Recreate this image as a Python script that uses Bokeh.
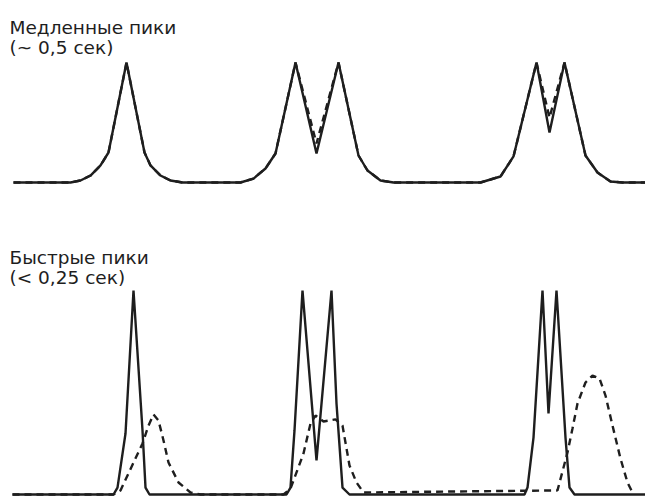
from bokeh.plotting import figure
from bokeh.layouts import column
from bokeh.models import Range1d, Label
from bokeh.embed import file_html
from bokeh.resources import INLINE

# ---- data (time in s, arbitrary signal units) ----
slow_t = [0.05, 0.62, 0.72, 0.82, 0.92, 1.00, 1.18, 1.36, 1.42, 1.52, 1.62, 1.74,
          2.32, 2.45, 2.57, 2.67, 2.87, 3.08, 3.30, 3.50, 3.59, 3.72, 3.85,
          4.72, 4.92, 5.05, 5.28, 5.41, 5.56, 5.77, 5.89, 6.02, 6.14, 6.37]
slow_solid = [0, 0, 1.7, 5.8, 14.2, 25, 100, 25, 14.2, 5.8, 1.7, 0,
              0, 3.3, 11.7, 24.2, 100, 24.2, 100, 22.5, 10, 1.7, 0,
              0, 5, 21.7, 100, 41.7, 100, 22.5, 8.3, 0.8, 0, 0]
slow_dashed = [0, 0, 1.7, 5.8, 14.2, 25, 100, 25, 14.2, 5.8, 1.7, 0,
               0, 3.3, 11.7, 24.2, 100, 32.5, 100, 22.5, 10, 1.7, 0,
               0, 5, 21.7, 100, 54, 100, 22.5, 8.3, 0.8, 0, 0]

fast_t = [0.04, 1.05, 1.09, 1.17, 1.25, 1.34, 1.37, 1.41,
          2.78, 2.82, 2.86, 2.94, 3.08, 3.23, 3.28, 3.34, 3.41,
          5.16, 5.19, 5.25, 5.34, 5.40, 5.48, 5.57, 5.61, 5.66, 6.37]
fast_solid = [0, 0, 3.4, 29.9, 100, 31.4, 3.4, 0,
              0, 3.4, 31.4, 100, 16.7, 100, 44.6, 3.4, 0,
              0, 3.4, 27.9, 100, 39.7, 100, 27.9, 3.4, 0, 0]

slowdet_t = [0.04, 1.05, 1.12, 1.34, 1.40, 1.45, 1.50, 1.55, 1.60, 1.70, 1.82, 1.92,
             2.75, 2.82, 2.95, 3.02, 3.07, 3.15, 3.27, 3.34, 3.41, 3.48, 3.55,
             5.49, 5.59, 5.64, 5.69, 5.77, 5.84, 5.91, 5.97, 6.04, 6.12, 6.19, 6.25]
slowdet = [0, 0, 2, 25, 33.8, 39.2, 36.3, 26.5, 15.7, 5.9, 1, 0,
           0, 2.9, 20.1, 34.8, 38.7, 35.8, 36.8, 33.8, 14.2, 5.9, 1,
           2, 20.6, 32.4, 44.6, 54.9, 58.3, 56.9, 48.5, 33.8, 17.6, 5.9, 0]

top_title = ["Медленные пики", "(~ 0,5 сек)"]
bottom_title = ["Быстрые пики", "(< 0,25 сек)"]

INK = "#1e1e1e"
FONT = "DejaVu Sans"
W = 645
LW = 2.4


def make_fig(h, yr):
    p = figure(width=W, height=h, output_backend="svg", toolbar_location=None,
               x_axis_type=None, y_axis_type=None, min_border=0,
               x_range=Range1d(-0.08, 6.37), y_range=Range1d(*yr))
    p.grid.visible = False
    p.outline_line_color = None
    p.background_fill_color = "white"
    p.border_fill_color = "white"
    return p


def add_titles(p, lines, y0):
    for i, t in enumerate(lines):
        p.add_layout(Label(x=9, y=y0 - i * 20, x_units="screen", y_units="screen",
                           text=t, text_font=FONT, text_font_size="18.5px",
                           text_color=INK, text_baseline="alphabetic"))


top = make_fig(228, (-38.33, 151.67))
top.line(slow_t, slow_dashed, line_color=INK, line_width=LW, line_dash="7 5")
top.line(slow_t, slow_solid, line_color=INK, line_width=LW)
add_titles(top, top_title, 201)

bot = make_fig(268, (-0.98, 130.39))
bot.line(fast_t, fast_solid, line_color=INK, line_width=LW)
bot.line(slowdet_t, slowdet, line_color=INK, line_width=LW, line_dash="7 5")
add_titles(bot, bottom_title, 239)

layout = column(top, bot, spacing=0)
open("out.html", "w").write(file_html(layout, INLINE))
